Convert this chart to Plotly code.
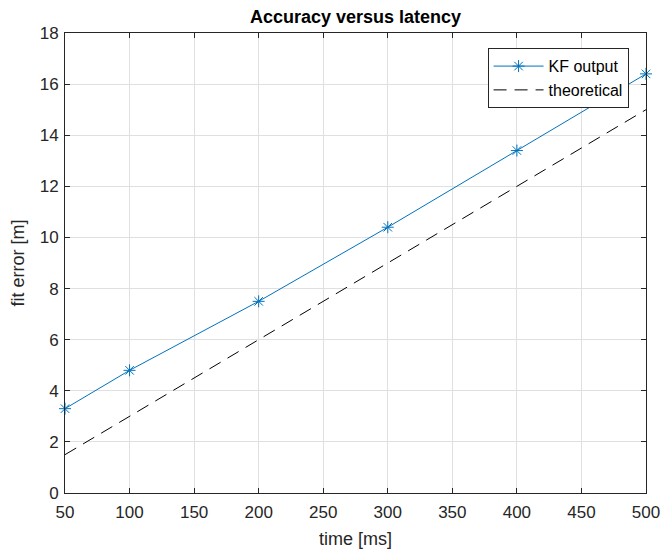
import plotly.graph_objects as go

time_kf = [50, 100, 200, 300, 400, 500]
err_kf = [3.3, 4.8, 7.5, 10.4, 13.4, 16.4]
time_th = [50, 500]
err_th = [1.5, 15.0]

x_ticks = [50, 100, 150, 200, 250, 300, 350, 400, 450, 500]
y_ticks = [0, 2, 4, 6, 8, 10, 12, 14, 16, 18]

FONT = "Liberation Sans, Arial"

fig = go.Figure()
fig.add_trace(go.Scatter(
    x=time_kf, y=err_kf, mode="lines+markers", name="KF output",
    line=dict(color="#0072BD", width=1),
    marker=dict(symbol="asterisk-open", size=10, color="#0072BD",
                line=dict(color="#0072BD", width=1)),
    cliponaxis=False,
))
fig.add_trace(go.Scatter(
    x=time_th, y=err_th, mode="lines", name="theoretical",
    line=dict(color="black", width=1, dash="13px,8px"),
))

axis_common = dict(
    showline=True, linecolor="#262626", linewidth=1, mirror="ticks",
    ticks="inside", ticklen=5, tickcolor="#262626",
    showgrid=True, gridcolor="#e0e0e0", gridwidth=1, zeroline=False,
    automargin=False,
    tickfont=dict(family=FONT, size=17, color="#262626"),
)

fig.update_layout(
    width=662, height=551,
    margin=dict(l=65, r=16, t=33, b=58),
    paper_bgcolor="white", plot_bgcolor="white",
    title=dict(text="<b>Accuracy versus latency</b>", x=(65 + 646) / 2 / 662, xanchor="center",
               y=1 - 17/551, yanchor="middle",
               font=dict(family=FONT, size=18, color="black")),
    xaxis=dict(range=[50, 500], tickvals=x_ticks, ticklabelstandoff=4,
               title=dict(text="time [ms]", standoff=10,
                          font=dict(family=FONT, size=18, color="#262626")),
               **axis_common),
    yaxis=dict(range=[0, 18], tickvals=y_ticks, ticklabelstandoff=2,
               title=dict(text="fit error [m]", standoff=10,
                          font=dict(family=FONT, size=18, color="#262626")),
               **axis_common),
    legend=dict(x=0.97, y=0.967, xanchor="right", yanchor="top",
                bgcolor="white", bordercolor="#262626", borderwidth=1,
                font=dict(family=FONT, size=16, color="black"),
                tracegroupgap=0, itemwidth=50),
    showlegend=True,
)

fig.write_html("out.html")
